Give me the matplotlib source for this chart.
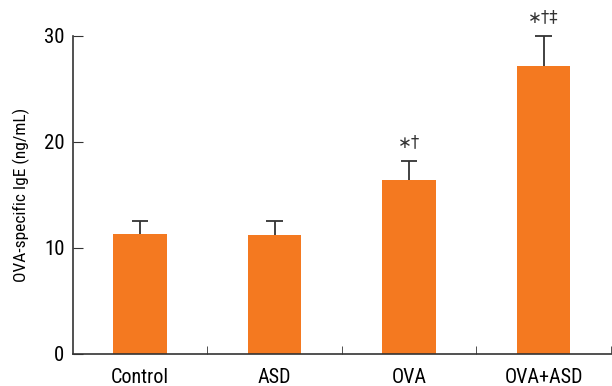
import matplotlib.pyplot as plt
import numpy as np

groups = ['Control', 'ASD', 'OVA', 'OVA+ASD']
means = [11.3, 11.2, 16.4, 27.2]
errors = [1.2, 1.3, 1.8, 2.8]
marks = ['', '', '\u2217\u2020', '\u2217\u2020\u2021']

plt.rcParams['font.family'] = ['Roboto Condensed', 'Archivo Narrow', 'Barlow Condensed', 'DejaVu Sans']

fig = plt.figure(figsize=(6.12, 3.86), dpi=100)
ax = fig.add_axes([0.119, 0.083, 0.879, 0.824])

x = np.arange(len(groups))
tops = np.array(means) + np.array(errors)
ax.bar(x, means, width=0.4, color='#F47920', zorder=2)
# upper error bars only
ax.vlines(x, means, tops, color='#333333', linewidth=1.3, zorder=1)
ax.hlines(tops, x - 0.06, x + 0.06, color='#333333', linewidth=1.3, zorder=1, clip_on=False)

for xi, t, s in zip(x, tops, marks):
    if s:
        ax.text(xi, t + 0.9, s, ha='center', va='bottom', fontsize=12,
                color='#333333', clip_on=False,
                family=['DejaVu Sans'])

ax.set_xlim(-0.5, 3.5)
ax.set_ylim(0, 30)
ax.set_yticks([0, 10, 20, 30])
ax.set_xticks(x)
ax.set_xticklabels(groups)
ax.set_xticks([0.5, 1.5, 2.5, 3.5], minor=True)
ax.tick_params(axis='x', which='major', length=0, pad=10, labelsize=14.5)
ax.tick_params(axis='x', which='minor', direction='in', length=6, color='#333333')
ax.tick_params(axis='y', direction='in', length=7, labelsize=15, color='#333333', pad=6)
ax.set_ylabel('OVA-specific IgE (ng/mL)', fontsize=12.5, labelpad=10)

for side in ['top', 'right']:
    ax.spines[side].set_visible(False)
for side in ['left', 'bottom']:
    ax.spines[side].set_color('#333333')
    ax.spines[side].set_linewidth(1.2)

fig.savefig('out.png', dpi=100)
